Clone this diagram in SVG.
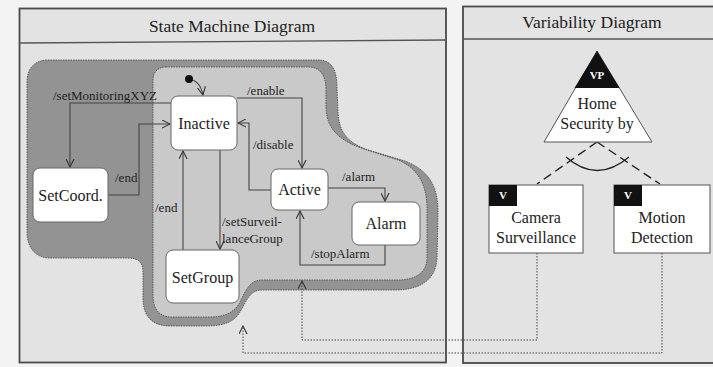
<svg xmlns="http://www.w3.org/2000/svg" width="713" height="367" viewBox="0 0 713 367">
<defs>
<marker id="open" viewBox="0 0 10 10" refX="9" refY="5" markerWidth="9" markerHeight="9" markerUnits="userSpaceOnUse" orient="auto">
<path d="M0,0.5 L9,5 L0,9.5" fill="none" stroke="#333" stroke-width="1.2"/>
</marker>
</defs>
<style>
.panel{fill:#e3e3e3;stroke:#4a4a4a;stroke-width:1.8}
.title{font-family:"Liberation Serif",serif;font-size:17.5px;fill:#222;text-anchor:middle}
.state{fill:#fff;stroke:#666;stroke-width:1}
.sl{font-family:"Liberation Serif",serif;font-size:16px;fill:#222;text-anchor:middle}
.tl{font-family:"Liberation Serif",serif;font-size:13px;fill:#222}
.edge{fill:none;stroke:#444;stroke-width:1.1;marker-end:url(#open)}
.trace{fill:none;stroke:#444;stroke-width:1;stroke-dasharray:1.5 1.5;marker-end:url(#open)}
.dash{fill:none;stroke:#222;stroke-width:1.4;stroke-dasharray:9 5}
.tab{font-family:"Liberation Serif",serif;font-size:11px;font-weight:bold;fill:#fff;text-anchor:middle}
</style>
<rect x="0" y="0" width="713" height="367" fill="#f3f3f3"/>
<g id="state-machine-panel">
<rect class="panel" x="19.5" y="8.5" width="426.5" height="354"/>
<line x1="19.5" y1="43" x2="446" y2="40" stroke="#555" stroke-width="1.4"/>
<text class="title" x="232" y="32">State Machine Diagram</text>
</g>
<g id="variability-panel">
<rect class="panel" x="463" y="6.5" width="260" height="356.5"/>
<line x1="463" y1="39" x2="713" y2="39" stroke="#555" stroke-width="1.4"/>
<text class="title" x="592" y="28">Variability Diagram</text>
</g>
<g id="outer-region">
<path d="M48,60 L318,60 C332,60 337,70 337,88 L338,112 C339,135 350,145 375,152 L405,161 C428,170 438,185 438,212 L437,258 C436,280 420,290 395,290 L262,290 C250,290 247,300 240,312 C234,322 224,326 205,326 L170,326 C152,326 143,316 143,298 L143,272 C143,263 139,258 128,258 L50,258 C36,258 27,248 27,232 L27,82 C27,68 35,60 48,60 Z" fill="#939393" stroke="#444" stroke-width="0.8" stroke-dasharray="1.5 1"/>
</g>
<g id="inner-region">
<path d="M166,67 L308,67 C320,67 326,75 326,90 L326,108 C327,130 340,142 370,151 L398,160 C418,168 427,185 427,208 L427,258 C427,273 415,280 398,280 L262,280 C250,280 246,290 240,302 C235,312 225,317 210,317 L172,317 C158,317 153,308 153,295 L153,80 C153,72 158,67 166,67 Z" fill="#c9c9c9" stroke="#444" stroke-width="0.8" stroke-dasharray="1.5 1"/>
</g>
<g id="connectors">
<path class="edge" d="M171,103 L70,103 L70,167"/>
<path class="edge" d="M108,195 L139,195 L139,124 L170,124"/>
<path class="edge" d="M183,250 L183,151"/>
<path class="edge" d="M220,150 L220,249"/>
<path class="edge" d="M237,98 L302,98 L302,168"/>
<path class="edge" d="M271,190 L249,190 L249,123 L238,123"/>
<path class="edge" d="M328,188 L385,188 L385,201"/>
<path class="edge" d="M385,245 L385,265 L300,265 L300,211"/>
<path class="edge" d="M189,79 C196,80 201,85 203,95"/>
<path class="dash" d="M597,142 L537,184"/>
<path class="dash" d="M597,142 L660,184"/>
<path d="M566,157 Q597,184 629,157" fill="none" stroke="#222" stroke-width="1.3"/>
<path class="trace" d="M537,253 L537,340 L302,340 L302,281"/>
<path class="trace" d="M662,253 L662,353 L243,353 L243,326"/>
<text class="tl" x="53" y="100">/setMonitoringXYZ</text>
<text class="tl" x="115" y="182">/end</text>
<text class="tl" x="155" y="212">/end</text>
<text class="tl" x="222" y="226">/setSurveil-</text>
<text class="tl" x="222" y="243">lanceGroup</text>
<text class="tl" x="247" y="95">/enable</text>
<text class="tl" x="253" y="149">/disable</text>
<text class="tl" x="342" y="181">/alarm</text>
<text class="tl" x="311" y="258">/stopAlarm</text>
</g>
<g id="initial">
<circle cx="189" cy="79" r="4" fill="#111"/>
</g>
<g id="inactive">
<rect class="state" x="171" y="96" width="66" height="54" rx="7"/>
<text class="sl" x="204" y="129">Inactive</text>
</g>
<g id="setcoord">
<rect class="state" x="33" y="168" width="75" height="54" rx="7"/>
<text class="sl" x="70.5" y="201">SetCoord.</text>
</g>
<g id="active">
<rect class="state" x="271" y="169" width="57" height="41" rx="7"/>
<text class="sl" x="299.5" y="195">Active</text>
</g>
<g id="alarm">
<rect class="state" x="352" y="202" width="68" height="43" rx="7"/>
<text class="sl" x="386" y="229">Alarm</text>
</g>
<g id="setgroup">
<rect class="state" x="166" y="250" width="73" height="53" rx="7"/>
<text class="sl" x="202.5" y="283">SetGroup</text>
</g>
<g id="vp-home-security">
<polygon points="597,51 652,142 544,142" fill="#fff" stroke="#555" stroke-width="1"/>
<polygon points="597,51 619.5,88 574.5,88" fill="#111"/>
<text class="tab" x="597" y="79">VP</text>
<text class="sl" x="597" y="109">Home</text>
<text class="sl" x="597" y="129">Security by</text>
</g>
<g id="camera-surveillance">
<rect x="489" y="185" width="94" height="68" fill="#fff" stroke="#555" stroke-width="1"/>
<rect x="489" y="185" width="28" height="21" fill="#111"/>
<text class="tab" x="503" y="199">V</text>
<text class="sl" x="536" y="223">Camera</text>
<text class="sl" x="536" y="243">Surveillance</text>
</g>
<g id="motion-detection">
<rect x="614" y="185" width="96" height="68" fill="#fff" stroke="#555" stroke-width="1"/>
<rect x="614" y="185" width="28" height="21" fill="#111"/>
<text class="tab" x="628" y="199">V</text>
<text class="sl" x="662" y="223">Motion</text>
<text class="sl" x="662" y="243">Detection</text>
</g>
</svg>
